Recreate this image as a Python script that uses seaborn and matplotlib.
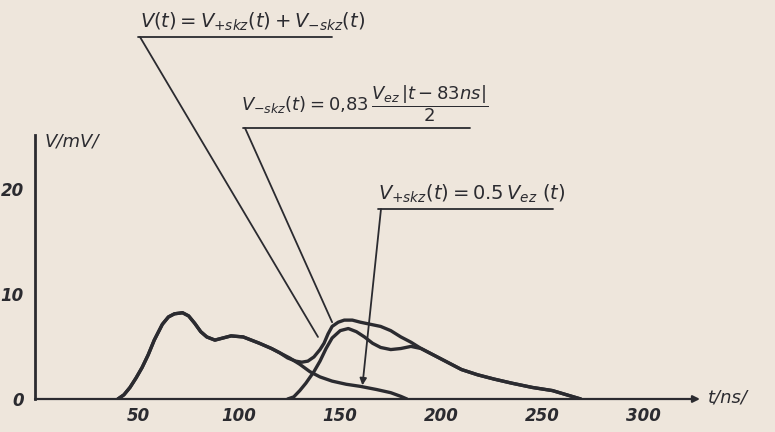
import numpy as np
import pandas as pd
import matplotlib
matplotlib.use("Agg")
import matplotlib.pyplot as plt
import seaborn as sns
from matplotlib.lines import Line2D

# values (t in ns, V in mV)
t_plus = [40, 43, 46, 49, 52, 55, 58, 62, 65, 68, 72, 75, 78, 81, 84, 88, 92, 96, 102, 110,
          116, 120, 125, 130, 135, 140, 146, 153, 160, 168, 175, 180, 183]
v_plus = [0, 0.4, 1.1, 2.0, 3.0, 4.2, 5.6, 7.1, 7.8, 8.1, 8.2, 7.9, 7.2, 6.4, 5.9, 5.6, 5.8, 6.0, 5.9, 5.3,
          4.8, 4.4, 3.9, 3.3, 2.6, 2.1, 1.7, 1.4, 1.2, 0.9, 0.6, 0.25, 0]

t_minus = [124, 127, 130, 133, 137, 140, 143, 146, 150, 154, 158, 162, 166, 170, 175, 180, 185, 190,
           195, 200, 205, 210, 218, 226, 235, 245, 255, 262, 269]
v_minus = [0, 0.2, 0.8, 1.5, 2.6, 3.6, 4.8, 5.8, 6.5, 6.7, 6.4, 5.9, 5.3, 4.9, 4.7, 4.8, 5.0, 4.8,
           4.3, 3.8, 3.3, 2.8, 2.3, 1.9, 1.5, 1.1, 0.8, 0.4, 0]

t_sum = [40, 43, 46, 49, 52, 55, 58, 62, 65, 68, 72, 75, 78, 81, 84, 88, 92, 96, 102, 110,
         116, 120, 124, 128, 131, 134, 137, 140, 142, 144, 146, 149, 152, 156, 160, 165, 170, 175,
         180, 185, 190, 195, 200, 205, 210, 218, 226, 235, 245, 255, 262, 269]
v_sum = [0, 0.4, 1.1, 2.0, 3.0, 4.2, 5.6, 7.1, 7.8, 8.1, 8.2, 7.9, 7.2, 6.4, 5.9, 5.6, 5.8, 6.0, 5.9, 5.3,
         4.8, 4.4, 3.9, 3.6, 3.5, 3.6, 4.0, 4.7, 5.3, 6.2, 6.9, 7.3, 7.5, 7.5, 7.3, 7.1, 6.9, 6.5,
         5.9, 5.4, 4.8, 4.3, 3.8, 3.3, 2.8, 2.3, 1.9, 1.5, 1.1, 0.8, 0.4, 0]

x_ticks = [50, 100, 150, 200, 250, 300]
y_ticks = [0, 10, 20]

# points where the labels' leader lines end
lead_sum = (139, 5.9)
lead_minus = (146, 7.3)
lead_plus = (161, 1.3)

paper = "#eee6dc"
ink = "#2b2b30"

sns.set_style("white")
plt.rcParams["font.family"] = ["DejaVu Sans"]
plt.rcParams["mathtext.fontset"] = "dejavusans"

fig = plt.figure(figsize=(7.75, 4.32), dpi=100, facecolor=paper)
W, H = 775, 432
ax = fig.add_axes([35 / W, 33 / H, 665 / W, 264 / H])
ax.set_facecolor(paper)

df = pd.concat([
    pd.DataFrame({"t": t_plus, "v": v_plus, "curve": "plus"}),
    pd.DataFrame({"t": t_minus, "v": v_minus, "curve": "minus"}),
    pd.DataFrame({"t": t_sum, "v": v_sum, "curve": "sum"}),
])
for name, g in df.groupby("curve"):
    sns.lineplot(data=g, x="t", y="v", ax=ax, color=ink, lw=2.4, sort=False,
                 estimator=None, legend=False)

ax.set_xlim(-1, 328)
ax.set_ylim(0, 25.1)
ax.set_xlabel("")
ax.set_ylabel("")
for s in ["top", "right", "bottom"]:
    ax.spines[s].set_visible(False)
ax.spines["left"].set_color(ink)
ax.spines["left"].set_linewidth(2)

# x axis with arrow
ax.annotate("", xy=(1.0, 0), xytext=(0, 0), xycoords="axes fraction",
            arrowprops=dict(arrowstyle="-|>", color=ink, lw=1.6, mutation_scale=10,
                            shrinkA=0, shrinkB=0))

ax.set_xticks(x_ticks)
ax.set_xticklabels([str(x) for x in x_ticks], fontstyle="italic", fontsize=12,
                   fontweight="bold", color=ink)
ax.set_yticks(y_ticks)
ax.set_yticklabels([str(y) for y in y_ticks], fontstyle="italic", fontsize=12,
                   fontweight="bold", color=ink)
ax.tick_params(axis="x", direction="inout", length=4, width=1.5, color=ink, pad=4)
ax.tick_params(axis="y", direction="in", length=3, width=1.2, color=ink, pad=8)

fig.text(45 / W, 1 - 142 / H, "V/mV/", fontsize=13, fontstyle="italic", color=ink,
         va="center", ha="left")
fig.text(708 / W, 1 - 398 / H, "t/ns/", fontsize=13, fontstyle="italic", color=ink,
         va="center", ha="left")


def px(x, y):
    return (x / W, 1 - y / H)


def underline(x0, x1, y):
    fig.add_artist(Line2D([x0 / W, x1 / W], [1 - y / H, 1 - y / H],
                          transform=fig.transFigure, color=ink, lw=1.3))


# label 1
fig.text(140 / W, 1 - 33 / H, r"$V(t) = V_{+skz}(t) + V_{-skz}(t)$", fontsize=14,
         color=ink, ha="left", va="bottom")
underline(138, 332, 37)
ax.annotate("", xy=lead_sum, xycoords="data", xytext=px(140, 37),
            textcoords="figure fraction",
            arrowprops=dict(arrowstyle="-", color=ink, lw=1.3, shrinkA=0, shrinkB=0))

# label 2
fig.text(241 / W, 1 - 124 / H, r"$V_{-skz}(t) = 0{,}83\,\dfrac{V_{ez}\,|t-83ns|}{2}$",
         fontsize=13, color=ink, ha="left", va="bottom")
underline(243, 470, 128)
ax.annotate("", xy=lead_minus, xycoords="data", xytext=px(245, 128),
            textcoords="figure fraction",
            arrowprops=dict(arrowstyle="-", color=ink, lw=1.3, shrinkA=0, shrinkB=0))

# label 3
fig.text(378 / W, 1 - 205 / H, r"$V_{+skz}(t) = 0.5\,V_{ez}\ (t)$", fontsize=14,
         color=ink, ha="left", va="bottom")
underline(378, 553, 209)
ax.annotate("", xy=lead_plus, xycoords="data", xytext=px(381, 209),
            textcoords="figure fraction",
            arrowprops=dict(arrowstyle="-|>", color=ink, lw=1.3, mutation_scale=10,
                            shrinkA=0, shrinkB=0))

fig.savefig("out.png", dpi=100, facecolor=paper)
